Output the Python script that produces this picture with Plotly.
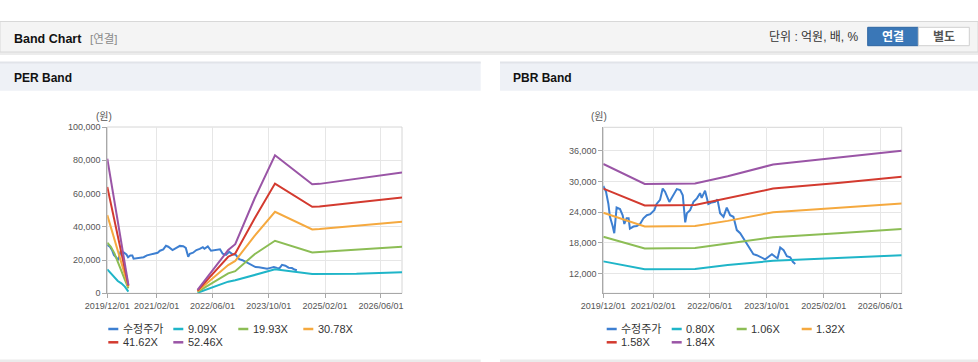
import plotly.graph_objects as go

# ---------------- data ----------------
x_tick_vals = ["2019-12-01", "2021-02-01", "2022-06-01", "2023-10-01", "2025-02-01", "2026-06-01"]
x_tick_text = ["2019/12/01", "2021/02/01", "2022/06/01", "2023/10/01", "2025/02/01", "2026/06/01"]
per_y_ticks = [0, 20000, 40000, 60000, 80000, 100000]
pbr_y_ticks = [12000, 18000, 24000, 30000, 36000]

price_name = "수정주가"
price_dates = ["2019-12-01", "2019-12-24", "2020-01-13", "2020-01-27", "2020-02-19", "2020-03-04",
               "2020-03-24", "2020-04-22", "2020-05-15", "2020-05-29", "2020-06-18", "2020-07-05",
               "2020-07-16", "2020-08-15", "2020-09-13", "2020-10-11", "2020-11-09", "2020-12-08",
               "2021-01-06", "2021-02-10", "2021-03-02", "2021-03-31", "2021-04-23", "2021-05-13",
               "2021-06-19", "2021-07-24", "2021-08-22", "2021-09-20", "2021-10-12", "2021-11-02",
               "2021-11-16", "2021-12-14", "2022-01-12", "2022-02-10", "2022-03-09", "2022-03-23",
               "2022-04-21", "2022-05-19", "2022-06-17", "2022-07-16", "2022-08-05", "2022-08-28",
               "2022-09-26", "2022-10-24", "2022-11-22", "2022-12-20", "2023-01-18", "2023-02-16",
               "2023-03-15", "2023-04-13", "2023-05-11", "2023-06-09", "2023-07-08", "2023-08-06",
               "2023-09-18", "2023-10-17", "2023-11-15", "2023-12-13", "2024-01-02", "2024-01-25",
               "2024-02-23", "2024-03-22", "2024-04-20", "2024-05-12", "2024-06-02"]
price_values = [29100, 28000, 25700, 23100, 21300, 19900, 24900, 24600, 23400, 21700, 22800, 22800,
                20800, 21200, 21300, 21700, 22800, 23400, 23600, 24400, 25600, 26400, 28600, 28000,
                26000, 27300, 28500, 28300, 27300, 22000, 23800, 24400, 26000, 26700, 27700, 26800,
                28200, 25600, 25900, 26000, 26500, 23800, 23100, 24900, 23400, 23100, 20500, 19900,
                18900, 17800, 16900, 15800, 15600, 15300, 14800, 15300, 15800, 15300, 15000, 17100,
                16600, 15400, 15200, 14300, 13900]

per_names = ["9.09X", "19.93X", "30.78X", "41.62X", "52.46X"]
per_band_dates = ["2019-12-01", "2020-01-01", "2020-02-01", "2020-03-01", "2020-04-01", "2020-05-01",
                  "2020-06-01", "2021-04-01", "2022-01-22", "2022-10-15", "2022-12-15", "2023-06-01",
                  "2023-11-25", "2024-10-13", "2024-12-15", "2025-11-01", "2026-12-01"]
per_9_09 = [14400, 11800, 9200, 7400, 6000, 4000, 1000, None, 300, 7000, 7800, 11200, 14400, 11600, 11600, 11700, 12600]
per_19_93 = [30400, 28000, 24000, 18500, 13200, 8200, 3000, None, 800, 12000, 13300, 23500, 31600, 24600, 24800, 26100, 28000]
per_30_78 = [47000, 39800, 32700, 25500, 18300, 11200, 4000, None, 1200, 17000, 19500, 34500, 49000, 38400, 38600, 40500, 43000]
per_41_62 = [64000, 53800, 43600, 33400, 23200, 13800, 4600, None, 1600, 22000, 24000, 45000, 66000, 52000, 52200, 54500, 57600]
per_52_46 = [81000, 68300, 55700, 43000, 30300, 17700, 5000, None, 2000, 26000, 29500, 57000, 83000, 65600, 65800, 68700, 72600]

pbr_names = ["0.80X", "1.06X", "1.32X", "1.58X", "1.84X"]
pbr_band_dates = ["2019-12-01", "2020-11-20", "2022-01-25", "2022-11-01", "2023-11-25", "2025-06-01", "2026-12-01"]
pbr_0_80 = [14400, 12850, 12900, 13700, 14500, 15000, 15600]
pbr_1_06 = [19200, 16900, 17000, 17900, 19100, 19900, 20700]
pbr_1_32 = [23900, 21200, 21300, 22300, 24000, 24800, 25700]
pbr_1_58 = [28600, 25300, 25400, 26700, 28600, 29700, 30900]
pbr_1_84 = [33400, 29500, 29600, 31000, 33300, 34600, 36000]

colors = ["#3d7fd1", "#1fb5c8", "#8cbd55", "#f5a93f", "#d33a2f", "#9a55a6"]

# ---------------- figure ----------------
W, H = 978, 362
FONT = "Liberation Sans, Arial, Noto Sans CJK KR, sans-serif"


def fx(x):
    return x / W


def fy(y):
    return 1 - y / H


fig = go.Figure()

per_bands = [per_9_09, per_19_93, per_30_78, per_41_62, per_52_46]
pbr_bands = [pbr_0_80, pbr_1_06, pbr_1_32, pbr_1_58, pbr_1_84]

fig.add_trace(go.Scatter(x=price_dates, y=price_values, name=price_name, mode="lines",
                         line=dict(color=colors[0], width=2), xaxis="x", yaxis="y", showlegend=False))
for i, (nm, vals) in enumerate(zip(per_names, per_bands)):
    fig.add_trace(go.Scatter(x=per_band_dates, y=vals, name=nm, mode="lines", connectgaps=False,
                             line=dict(color=colors[i + 1], width=2), xaxis="x", yaxis="y", showlegend=False))

fig.add_trace(go.Scatter(x=price_dates, y=price_values, name=price_name, mode="lines",
                         line=dict(color=colors[0], width=2), xaxis="x2", yaxis="y2", showlegend=False))
for i, (nm, vals) in enumerate(zip(pbr_names, pbr_bands)):
    fig.add_trace(go.Scatter(x=pbr_band_dates, y=vals, name=nm, mode="lines",
                             line=dict(color=colors[i + 1], width=2), xaxis="x2", yaxis="y2", showlegend=False))

common_x = dict(type="date", range=["2019-12-01", "2026-12-01"], tickvals=x_tick_vals, ticktext=x_tick_text,
                showgrid=True, gridcolor="#e6e6e6", gridwidth=1, showline=True, linecolor="#a8a8a8",
                ticks="outside", ticklen=4, tickcolor="#a8a8a8", zeroline=False, fixedrange=True,
                automargin=False, tickfont=dict(size=9, color="#555555", family=FONT))
common_y = dict(showgrid=True, gridcolor="#e6e6e6", gridwidth=1, showline=True, linecolor="#a8a8a8",
                ticks="outside", ticklen=4, tickcolor="#a8a8a8", zeroline=False, fixedrange=True,
                automargin=False, tickformat=",d", tickfont=dict(size=9, color="#555555", family=FONT))

fig.update_layout(
    width=W, height=H, autosize=False,
    margin=dict(l=0, r=0, t=0, b=0, pad=0, autoexpand=False),
    paper_bgcolor="white", plot_bgcolor="rgba(0,0,0,0)",
    font=dict(family=FONT, color="#333333"),
    showlegend=False,
    xaxis=dict(common_x, domain=[fx(107.3), fx(402)], anchor="y"),
    yaxis=dict(common_y, domain=[fy(293.3), fy(127)], range=[0, 100000], tickvals=per_y_ticks, anchor="x"),
    xaxis2=dict(common_x, domain=[fx(603.3), fx(901.7)], anchor="y2"),
    yaxis2=dict(common_y, domain=[fy(293.3), fy(127.3)], range=[8170, 40560], tickvals=pbr_y_ticks, anchor="x2"),
)

shapes = []
annots = []

# top header bar
shapes.append(dict(type="rect", xref="paper", yref="paper", x0=0, x1=1, y0=fy(55), y1=fy(52),
                   fillcolor="#ececec", line=dict(width=0), layer="below"))
shapes.append(dict(type="rect", xref="paper", yref="paper", x0=0, x1=1, y0=fy(52), y1=fy(21.5),
                   fillcolor="#f4f4f4", line=dict(color="#d8d8d8", width=1), layer="below"))
annots.append(dict(text="<b>Band Chart</b>", x=fx(12), y=fy(38.5), xref="paper", yref="paper",
                   xanchor="left", yanchor="middle", showarrow=False, font=dict(size=12.5, color="#111111")))
annots.append(dict(text="[연결]", x=fx(88), y=fy(38.5), xref="paper", yref="paper",
                   xanchor="left", yanchor="middle", showarrow=False, font=dict(size=11.5, color="#8a8a8a")))
annots.append(dict(text="단위 : 억원, 배, %", x=fx(861), y=fy(37), xref="paper", yref="paper",
                   xanchor="right", yanchor="middle", showarrow=False, font=dict(size=12, color="#333333")))
shapes.append(dict(type="rect", xref="paper", yref="paper", x0=fx(867.7), x1=fx(918.3), y0=fy(45.7), y1=fy(27.3),
                   fillcolor="#3a77b7", line=dict(color="#2e66a2", width=1), layer="below"))
shapes.append(dict(type="rect", xref="paper", yref="paper", x0=fx(918.3), x1=fx(969.3), y0=fy(45.7), y1=fy(27.3),
                   fillcolor="#ffffff", line=dict(color="#cfcfcf", width=1), layer="below"))
annots.append(dict(text="<b>연결</b>", x=fx(893), y=fy(36.5), xref="paper", yref="paper",
                   xanchor="center", yanchor="middle", showarrow=False, font=dict(size=12, color="#ffffff")))
annots.append(dict(text="<b>별도</b>", x=fx(944), y=fy(36.5), xref="paper", yref="paper",
                   xanchor="center", yanchor="middle", showarrow=False, font=dict(size=12, color="#555555")))

# panel headers
for x0, x1, title, tx in [(0, 480.7, "PER Band", 12), (500, 978, "PBR Band", 511)]:
    shapes.append(dict(type="rect", xref="paper", yref="paper", x0=fx(x0), x1=fx(x1), y0=fy(90.7), y1=fy(62),
                       fillcolor="#eef1f6", line=dict(width=0), layer="below"))
    shapes.append(dict(type="line", xref="paper", yref="paper", x0=fx(x0), x1=fx(x1), y0=fy(62.5), y1=fy(62.5),
                       line=dict(color="#e1e4e9", width=2), layer="below"))
    annots.append(dict(text="<b>" + title + "</b>", x=fx(tx), y=fy(78), xref="paper", yref="paper",
                       xanchor="left", yanchor="middle", showarrow=False, font=dict(size=12, color="#111111")))
    shapes.append(dict(type="rect", xref="paper", yref="paper", x0=fx(x0), x1=fx(x1), y0=fy(362), y1=fy(359.5),
                       fillcolor="#ebebeb", line=dict(width=0), layer="below"))

# plot boxes (light top / right border)
for xr, yr in [("x", "y"), ("x2", "y2")]:
    shapes.append(dict(type="rect", xref=xr + " domain", yref=yr + " domain", x0=0, x1=1, y0=0, y1=1,
                       line=dict(color="#d6d6d6", width=1), layer="below"))

# unit labels
annots.append(dict(text="(원)", x=fx(103.5), y=fy(116), xref="paper", yref="paper", xanchor="center",
                   yanchor="middle", showarrow=False, font=dict(size=10, color="#555555")))
annots.append(dict(text="(원)", x=fx(598.5), y=fy(116.5), xref="paper", yref="paper", xanchor="center",
                   yanchor="middle", showarrow=False, font=dict(size=10, color="#555555")))

# manual legends
for base, names in [(108.3, [price_name] + per_names), (606.7, [price_name] + pbr_names)]:
    for k, nm in enumerate(names):
        col, row = k % 4, k // 4
        x0 = base + col * 65
        yy = 329 + row * 13.3
        shapes.append(dict(type="line", xref="paper", yref="paper", x0=fx(x0), x1=fx(x0 + 10), y0=fy(yy), y1=fy(yy),
                           line=dict(color=colors[k], width=2.5)))
        annots.append(dict(text=nm, x=fx(x0 + 12.5), y=fy(yy), xref="paper", yref="paper", xanchor="left",
                           yanchor="middle", showarrow=False, font=dict(size=11, color="#333333")))

fig.update_layout(shapes=shapes, annotations=annots)

fig.write_html("out.html", config={"displayModeBar": False},
               post_script="document.body.style.margin='0';document.body.style.padding='0';")
